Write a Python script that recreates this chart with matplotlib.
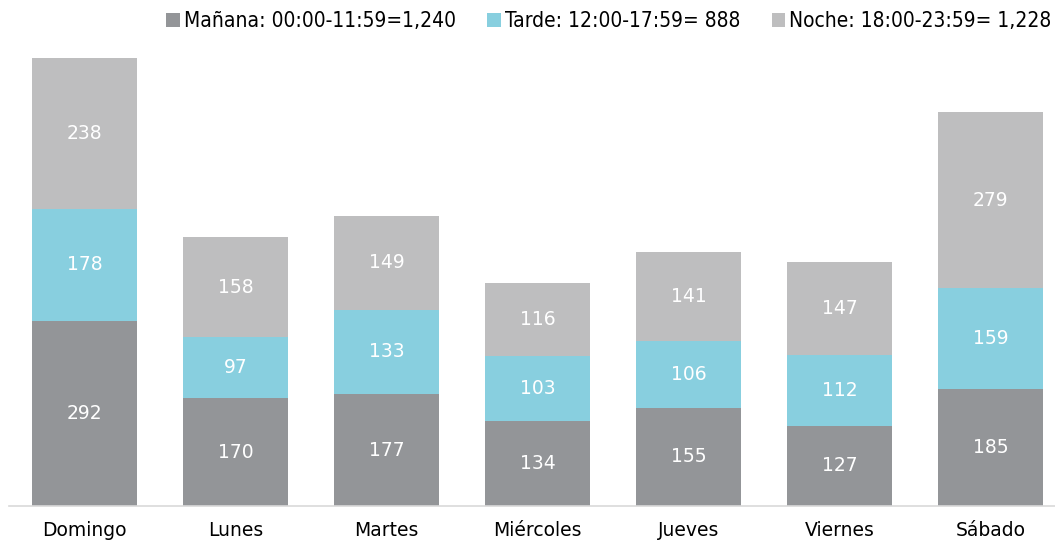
import matplotlib.pyplot as plt
from matplotlib.font_manager import FontProperties
import numpy as np

dias = ['Domingo', 'Lunes', 'Martes', 'Miércoles', 'Jueves', 'Viernes', 'Sábado']
manana = [292, 170, 177, 134, 155, 127, 185]
tarde = [178, 97, 133, 103, 106, 112, 159]
noche = [238, 158, 149, 116, 141, 147, 279]
series_labels = ['Mañana: 00:00-11:59=1,240', 'Tarde: 12:00-17:59= 888', 'Noche: 18:00-23:59= 1,228']
colores = ['#939598', '#88cfdf', '#bebebf']

plt.rcParams['font.family'] = ['DejaVu Sans']

fig = plt.figure(figsize=(10.55, 5.43), dpi=100)
ymax = 720
ax = fig.add_axes([9/1055, 1 - 506/543, 1057/1055, ymax * 448/708 / 543])

x = np.arange(len(dias))
w = 0.695
bottom = np.zeros(len(dias))
for vals, lab, col in zip([manana, tarde, noche], series_labels, colores):
    ax.bar(x, vals, w, bottom=bottom, color=col, label=lab)
    for xi, b, v in zip(x, bottom, vals):
        ax.text(xi, b + v / 2, str(v), ha='center', va='center', color='white', fontsize=13.5)
    bottom += np.array(vals)

ax.set_xlim(-0.5, 6.5)
ax.set_ylim(0, ymax)
ax.set_yticks([])
ax.set_xticks(x)
ax.set_xticklabels(dias, fontsize=13.5)
ax.tick_params(axis='x', length=0, pad=11)
for s in ['top', 'right', 'left']:
    ax.spines[s].set_visible(False)
ax.spines['bottom'].set_color('#d9d9d9')
ax.spines['bottom'].set_linewidth(1.2)

leg_font = FontProperties(family='DejaVu Sans', stretch='condensed', size=15)
fig.legend(loc='upper left', bbox_to_anchor=(155/1055, 1.0), ncol=3, frameon=False,
           prop=leg_font, handlelength=0.65, handleheight=0.65, handletextpad=0.2,
           columnspacing=1.5, borderaxespad=0.15)

plt.savefig('out.png', dpi=100)
